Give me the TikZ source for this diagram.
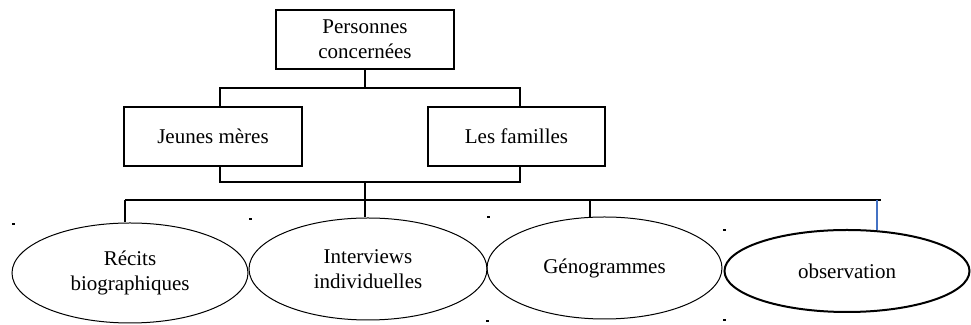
\documentclass[tikz,border=0pt]{standalone}
\usepackage{fontspec}
\setmainfont{Liberation Serif}
\usepackage{tikz}
\usetikzlibrary{shapes.geometric, calc}
\usepackage{xcolor}
\definecolor{lienbleu}{HTML}{4472C4}

\tikzset{
  boite/.style={draw, line width=1pt, minimum width=89pt, minimum height=29.5pt, inner sep=0pt, align=center, font=\fontsize{10.5}{12.5}\selectfont},
  ovale/.style={draw, ellipse, line width=0.5pt, inner sep=0pt, align=center, font=\fontsize{10.5}{12.5}\selectfont},
  lien/.style={line width=1pt}
}

\begin{document}
\begin{tikzpicture}[x=0.5pt, y=-0.5pt]
        \useasboundingbox (0,0) rectangle (971,325);
        % boites
        \node[boite] (pc) at (365,39.5) {Personnes\\concernées};
        \node[boite] (jm) at (213,136.5) {Jeunes mères};
        \node[boite, minimum width=88.5pt] (fam) at (516.5,136.5) {Les familles};
        % ovales
        \node[ovale, minimum width=118pt, minimum height=50pt] (rec) at (130,273) {Récits\\biographiques};
        \node[ovale, minimum width=119pt, minimum height=51pt] (itw) at (368,269) {Interviews\\individuelles};
        \node[ovale, minimum width=117.5pt, minimum height=51pt] (gen) at (604.5,268) {Génogrammes};
        \node[ovale, line width=1pt, minimum width=122.5pt, minimum height=41pt] (obs) at (847,271) {observation};
        % liens
        \coordinate (j1) at (220,88);
        \coordinate (j2) at (520,88);
        \coordinate (k1) at (220,182);
        \coordinate (k2) at (520,182);
        \coordinate (b1) at (125,200);
        \coordinate (b2) at (881,200);
        \coordinate (b3) at (590,200);
        \coordinate (b4) at (877,200);
        \draw[lien] (pc.south) -- (pc.south |- j1);
        \draw[lien] (j1 |- jm.north) -- (j1) -- (j2) -- (j2 |- fam.north);
        \draw[lien] (k1 |- jm.south) -- (k1) -- (k2) -- (k2 |- fam.south);
        \draw[lien] (pc.south |- k1) -- (pc.south |- itw.north);
        \draw[lien] (b1) -- (b2);
        \draw[lien] (b1) -- (b1 |- rec.north);
        \draw[lien] (b3) -- ($(b3 |- gen.north)+(0,1)$);
        \draw[lienbleu, line width=0.7pt] (b4) -- ($(b4 |- obs.north)+(0,1)$);
        % petits points
        \foreach \px/\py in {13/224, 250/219, 488/217, 724/230, 487/321, 724/320} {
            \fill (\px-1,\py-1) rectangle ++(2.5,2.5);
        }
    \end{tikzpicture}
\end{document}
